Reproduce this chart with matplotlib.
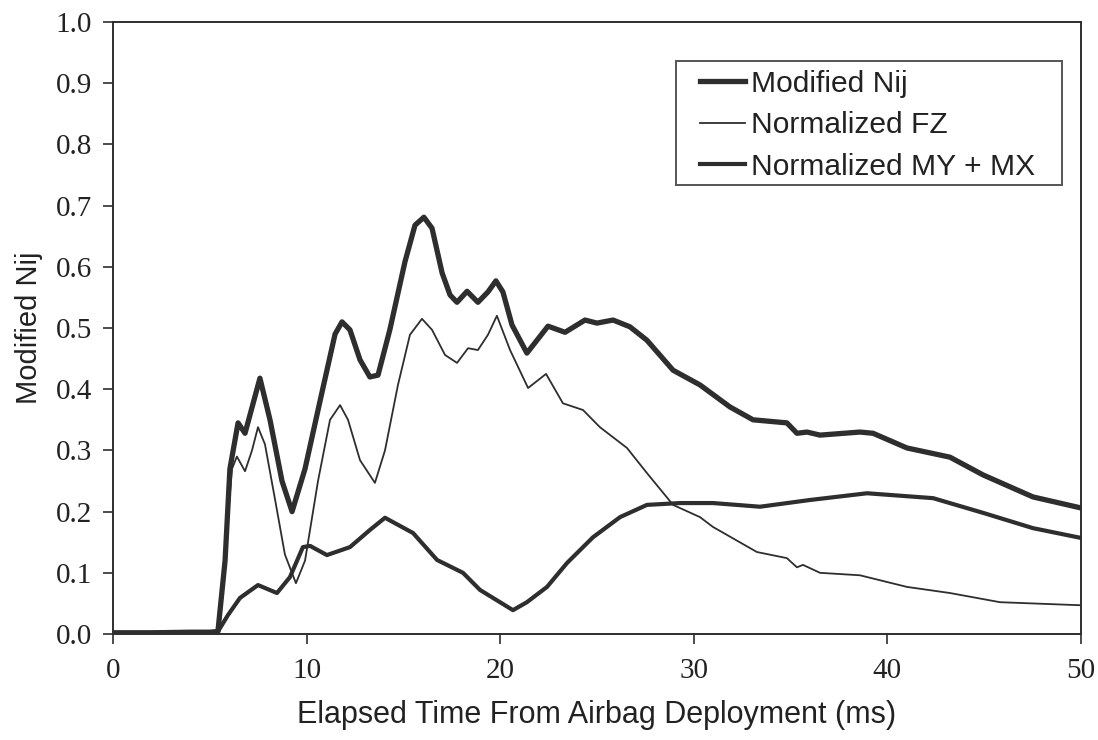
import matplotlib
matplotlib.use("Agg")
import matplotlib.pyplot as plt
from matplotlib.patches import Rectangle

# Modified Nij (thick)
nij_t = [0, 2, 4, 5.0, 5.42, 5.79, 6.04, 6.46, 6.82, 7.59, 8.11, 8.73, 9.25, 9.92, 10.69,
         11.47, 11.83, 12.24, 12.76, 13.27, 13.69, 14.3, 15.08, 15.6, 16.06, 16.48, 17.0,
         17.41, 17.77, 18.29, 18.85, 19.37, 19.78, 20.14, 20.61, 21.38, 21.9, 22.47, 23.35,
         24.38, 25.0, 25.83, 26.7, 27.58, 28.93, 30.32, 31.87, 33.06, 34.81, 35.33, 35.85,
         36.52, 38.58, 39.26, 41.01, 43.23, 44.94, 47.52, 50]
nij_v = [0.002, 0.002, 0.003, 0.003, 0.004, 0.12, 0.27, 0.345, 0.328, 0.418, 0.35, 0.25,
         0.20, 0.27, 0.38, 0.49, 0.51, 0.497, 0.448, 0.42, 0.423, 0.497, 0.608, 0.668, 0.681,
         0.663, 0.59, 0.554, 0.542, 0.56, 0.542, 0.559, 0.577, 0.559, 0.505, 0.459, 0.48,
         0.503, 0.493, 0.513, 0.508, 0.513, 0.502, 0.48, 0.431, 0.407, 0.371, 0.35, 0.345,
         0.328, 0.33, 0.325, 0.33, 0.328, 0.304, 0.289, 0.26, 0.224, 0.206]

# Normalized FZ (thin)
fz_t = [0, 2, 4, 5.0, 5.42, 5.84, 6.15, 6.4, 6.82, 7.18, 7.49, 7.85, 8.37, 8.88, 9.45, 9.92,
        10.59, 11.21, 11.73, 12.14, 12.76, 13.53, 14.05, 14.72, 15.34, 15.96, 16.48, 17.15,
        17.77, 18.34, 18.85, 19.37, 19.83, 20.51, 21.44, 22.37, 23.24, 24.28, 25.15, 26.55,
        27.58, 28.93, 30.32, 30.99, 33.26, 34.81, 35.33, 35.64, 36.52, 38.58, 41.01, 43.23,
        45.82, 50]
fz_v = [0.002, 0.002, 0.003, 0.003, 0.004, 0.154, 0.27, 0.29, 0.266, 0.30, 0.338, 0.31,
        0.22, 0.13, 0.083, 0.12, 0.25, 0.35, 0.374, 0.35, 0.284, 0.247, 0.30, 0.407, 0.489,
        0.515, 0.497, 0.456, 0.443, 0.467, 0.464, 0.489, 0.52, 0.464, 0.402, 0.425, 0.377,
        0.366, 0.338, 0.304, 0.263, 0.211, 0.191, 0.175, 0.134, 0.124, 0.109, 0.113, 0.10,
        0.096, 0.077, 0.067, 0.052, 0.047]

# Normalized MY + MX
my_t = [0, 2, 4, 5.0, 5.42, 5.94, 6.56, 7.49, 8.47, 9.14, 9.81, 10.18, 11.05, 12.24, 13.27,
        14.05, 15.5, 16.74, 18.08, 18.96, 20.66, 21.38, 22.42, 23.45, 24.79, 26.19, 27.58,
        29.29, 30.99, 33.42, 36.0, 38.95, 42.36, 44.94, 47.52, 50]
my_v = [0.002, 0.002, 0.003, 0.003, 0.004, 0.031, 0.059, 0.08, 0.067, 0.093, 0.142, 0.144,
        0.129, 0.142, 0.17, 0.19, 0.165, 0.121, 0.10, 0.072, 0.039, 0.052, 0.077, 0.116,
        0.158, 0.191, 0.211, 0.214, 0.214, 0.208, 0.219, 0.23, 0.222, 0.198, 0.173, 0.157]

fig = plt.figure(figsize=(10.98, 7.4), dpi=100)
ax = fig.add_axes([0.1029, 0.1432, 0.8816, 0.8271])

ink = "#2e2e2e"
ax.plot(nij_t, nij_v, color=ink, lw=3.8, label="Modified Nij", solid_joinstyle="round")
ax.plot(fz_t, fz_v, color=ink, lw=1.3, label="Normalized FZ", solid_joinstyle="round")
ax.plot(my_t, my_v, color=ink, lw=3.0, label="Normalized MY + MX", solid_joinstyle="round")

ax.set_xlim(0, 50)
ax.set_ylim(0, 1.0)
ax.set_xticks([0, 10, 20, 30, 40, 50])
ax.set_yticks([i / 10 for i in range(11)])
ax.yaxis.set_major_formatter(matplotlib.ticker.FormatStrFormatter("%.1f"))
ax.tick_params(direction="out", length=7, width=1.2, colors=ink, pad=8,
               labelsize=21, labelcolor="#222222")
for lab in ax.get_xticklabels() + ax.get_yticklabels():
    lab.set_family("Liberation Serif")
ax.tick_params(axis="x", pad=10)
for s in ax.spines.values():
    s.set_linewidth(1.4)
    s.set_color(ink)

ax.set_xlabel("Elapsed Time From Airbag Deployment (ms)", family="Liberation Sans",
              fontsize=22, color="#222222", labelpad=12)
ax.set_ylabel("Modified Nij", family="Liberation Sans", fontsize=21, color="#222222",
              labelpad=9)

# legend without its own frame; a wider box is drawn round it below
leg = ax.legend(loc="upper right", bbox_to_anchor=(0.9576, 0.9295), frameon=False,
                handlelength=1.5, handletextpad=0.2, borderpad=0.15,
                labelspacing=0.45, borderaxespad=0,
                prop={"family": "Liberation Sans", "size": 21.6})
for t in leg.get_texts():
    t.set_color("#222222")

fig.canvas.draw()
bb = leg.get_window_extent().transformed(fig.transFigure.inverted())
padl = 20 / 1098
padr = 22 / 1098
padt = 4 / 740
fig.add_artist(Rectangle((bb.x0 - padl, bb.y0), bb.width + padl + padr, bb.height + padt,
                         transform=fig.transFigure, fill=False, edgecolor="#555555",
                         linewidth=1.4, zorder=5))

fig.savefig("out.png", dpi=100)
